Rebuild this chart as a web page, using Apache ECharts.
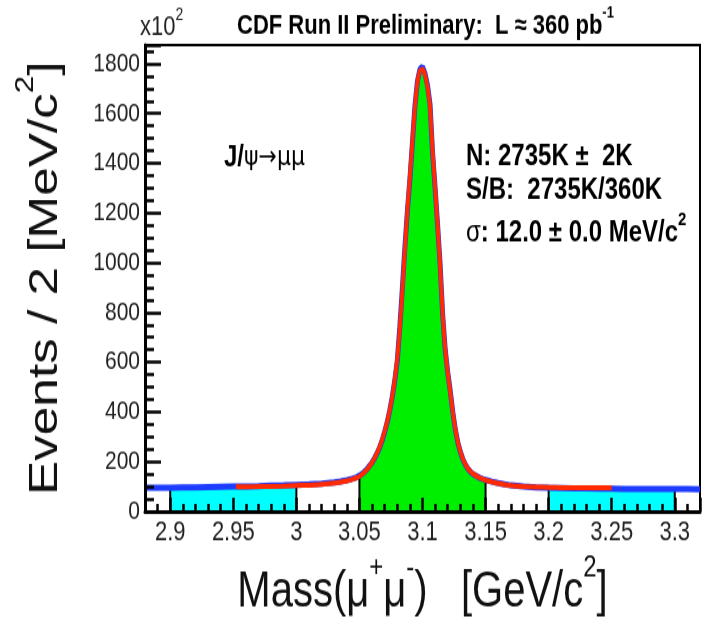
<!DOCTYPE html>
<html><head><meta charset="utf-8">
<script src="https://cdn.jsdelivr.net/npm/echarts@6.0.0/dist/echarts.min.js"></script>
<style>
html,body{margin:0;padding:0;background:#fff;overflow:hidden;width:704px;height:624px}
#chart{width:704px;height:499px;transform:scaleY(1.2505);transform-origin:0 0}
</style>
</head><body><div id="chart"></div>
<script>
// Dimuon invariant mass (GeV/c^2), bin centres
const massBins = [2.880, 2.890, 2.900, 2.910, 2.920, 2.930, 2.940, 2.950, 2.960, 2.970, 2.980, 2.990, 3.000, 3.010, 3.020, 3.030, 3.035, 3.040, 3.044, 3.048,
  3.050, 3.052, 3.054, 3.056, 3.058, 3.060, 3.062, 3.064, 3.066, 3.068, 3.070, 3.072, 3.074, 3.076, 3.078, 3.080, 3.082, 3.084, 3.086, 3.088,
  3.090, 3.092, 3.094, 3.096, 3.098, 3.100, 3.102, 3.104, 3.106, 3.108, 3.110, 3.112, 3.114, 3.116, 3.118, 3.120, 3.122, 3.124, 3.126, 3.128,
  3.130, 3.132, 3.134, 3.136, 3.138, 3.140, 3.142, 3.144, 3.146, 3.148, 3.150,
  3.155, 3.160, 3.165, 3.170, 3.180, 3.190, 3.200, 3.210, 3.220, 3.230, 3.240, 3.250, 3.260, 3.270, 3.280, 3.290, 3.300, 3.310, 3.320];
// Events / 2 MeV (x10^2)
const counts = [96, 95, 96, 97, 97, 98, 99, 100, 101, 102, 104, 105, 107, 109, 112, 117, 121, 126, 131, 138,
  144, 151, 160, 170, 183, 197, 214, 234, 257, 285, 320, 358, 405, 460, 525, 605, 740, 895, 1060, 1205,
  1335, 1480, 1630, 1730, 1778, 1788, 1760, 1712, 1635, 1440, 1300, 1150, 990, 790, 650, 560, 485, 400, 330, 278,
  240, 210, 188, 172, 160, 151, 145, 139, 134, 130, 127,
  120, 114, 109, 105, 100, 97, 95, 94, 93, 93, 92, 92, 91, 91, 91, 90, 90, 90, 89];
// Fit curve
const fitMass = [2.952, 2.970, 2.990, 3.000, 3.010, 3.020, 3.030, 3.035, 3.040, 3.044, 3.048,
  3.050, 3.052, 3.054, 3.056, 3.058, 3.060, 3.062, 3.064, 3.066, 3.068, 3.070, 3.072, 3.074, 3.076, 3.078, 3.080, 3.082, 3.084, 3.086, 3.088,
  3.090, 3.092, 3.094, 3.096, 3.098, 3.100, 3.102, 3.104, 3.106, 3.108, 3.110, 3.112, 3.114, 3.116, 3.118, 3.120, 3.122, 3.124, 3.126, 3.128,
  3.130, 3.132, 3.134, 3.136, 3.138, 3.140, 3.142, 3.144, 3.146, 3.148, 3.150,
  3.155, 3.160, 3.165, 3.170, 3.180, 3.190, 3.200, 3.210, 3.220, 3.230, 3.240, 3.250];
const fitCounts = [99, 100, 102, 104, 106, 109, 114, 118, 123, 129, 136,
  141, 149, 158, 169, 182, 197, 215, 236, 260, 289, 322, 361, 407, 462, 530, 615, 735, 885, 1050, 1210,
  1345, 1490, 1625, 1725, 1772, 1778, 1755, 1705, 1625, 1450, 1305, 1150, 985, 795, 655, 560, 482, 402, 333, 280,
  242, 212, 190, 173, 161, 152, 145, 139, 134, 130, 126,
  119, 113, 108, 104, 100, 98, 97, 96, 96, 95, 95, 95];
const signalWindow = [3.05, 3.15];
const sidebandWindows = [[2.9, 3.0], [3.2, 3.3]];
const xRange = [2.88, 3.32];
const yRange = [0, 1875];

const FONT = "'Liberation Sans', Arial, Helvetica, sans-serif";

function regionData(lo, hi) {
  const pts = [[lo, 0]];
  massBins.forEach((m, i) => { if (m >= lo - 1e-9 && m <= hi + 1e-9) pts.push([m, counts[i]]); });
  pts.push([hi, 0]);
  return pts;
}

const fillSeries = (data, color) => ({
  type: 'line', data, symbol: 'none', z: 1, silent: true,
  lineStyle: { color: '#000', width: 2 },
  areaStyle: { color, opacity: 1 }
});

const chart = echarts.init(document.getElementById('chart'));
chart.setOption({
  animation: false,
  backgroundColor: '#fff',
  grid: { left: 145, right: 4, top: 36, bottom: 78, show: true, borderColor: '#000', borderWidth: 2 },
  xAxis: {
    type: 'value', min: xRange[0], max: xRange[1], splitNumber: 9, minInterval: 0.05, maxInterval: 0.05, z: 10,
    axisLine: { show: true, lineStyle: { color: '#000', width: 3 } },
    axisTick: { show: true, inside: true, length: 11, lineStyle: { color: '#000', width: 2.5 } },
    minorTick: { show: true, splitNumber: 5, length: 6, lineStyle: { color: '#000', width: 2.5 } },
    splitLine: { show: false },
    axisLabel: { showMinLabel: false, showMaxLabel: false, fontFamily: FONT, fontSize: 22, color: '#222', margin: 6,
      formatter: v => String(+v.toFixed(3)) },
    name: '{n|Mass(μ}{s|+}{n|μ}{s|-}{n|)   [GeV/c}{s|2}{n|]}',
    nameLocation: 'middle', nameGap: 33,
    nameTextStyle: {
      rich: {
        n: { fontFamily: FONT, fontSize: 40, color: '#111', lineHeight: 52, verticalAlign: 'bottom' },
        s: { fontFamily: FONT, fontSize: 24, color: '#111', verticalAlign: 'top' }
      }
    }
  },
  yAxis: {
    type: 'value', min: yRange[0], max: yRange[1], interval: 200, z: 10,
    axisLine: { show: true, lineStyle: { color: '#000', width: 3 } },
    axisTick: { show: true, inside: true, length: 16, lineStyle: { color: '#000', width: 2.5 } },
    minorTick: { show: true, splitNumber: 4, length: 9, lineStyle: { color: '#000', width: 2.5 } },
    splitLine: { show: false },
    axisLabel: { showMaxLabel: false, fontFamily: FONT, fontSize: 21, color: '#222', margin: 5,
      formatter: v => String(v) },
    name: '{n|Events / 2 [MeV/c}{s|2}{n|]}',
    nameLocation: 'middle', nameRotate: 90, nameGap: 79,
    nameTextStyle: {
      rich: {
        n: { fontFamily: FONT, fontSize: 41, color: '#111', lineHeight: 52, verticalAlign: 'bottom' },
        s: { fontFamily: FONT, fontSize: 25, color: '#111', verticalAlign: 'top' }
      }
    }
  },
  series: [
    fillSeries(regionData(sidebandWindows[0][0], sidebandWindows[0][1]), '#00ffff'),
    fillSeries(regionData(sidebandWindows[1][0], sidebandWindows[1][1]), '#00ffff'),
    fillSeries(regionData(signalWindow[0], signalWindow[1]), '#00ee00'),
    {
      type: 'line', name: 'data', symbol: 'none', z: 3, silent: true,
      data: massBins.map((m, i) => [m, counts[i]]),
      lineStyle: { color: '#1e3cff', width: 5 }
    },
    {
      type: 'line', name: 'fit', symbol: 'none', z: 4, silent: true, smooth: 0.2,
      data: fitMass.map((m, i) => [m, fitCounts[i]]),
      lineStyle: { color: '#ff2a00', width: 4 }
    }
  ],
  graphic: [
    { type: 'text', x: 140, y: 19, style: { text: '{n|x10}{s|2}', verticalAlign: 'middle', align: 'left',
      rich: { n: { fontFamily: FONT, fontSize: 22, fill: '#222', lineHeight: 28, verticalAlign: 'bottom' },
              s: { fontFamily: FONT, fontSize: 14, fill: '#222', verticalAlign: 'top' } } } },
    { type: 'text', x: 237, y: 18, style: { text: '{n|CDF Run II Preliminary:  L ≈ 360 pb}{s|-1}', verticalAlign: 'middle', align: 'left',
      rich: { n: { fontFamily: FONT, fontSize: 22, fontWeight: 'bold', fill: '#000', lineHeight: 28, verticalAlign: 'bottom' },
              s: { fontFamily: FONT, fontSize: 13, fontWeight: 'bold', fill: '#000', verticalAlign: 'top' } } } },
    { type: 'text', x: 224, y: 126, style: { text: '{b|J/}{n|ψ→μμ}', verticalAlign: 'middle', align: 'left',
      rich: { b: { fontFamily: FONT, fontSize: 24, fontWeight: 'bold', fill: '#000' },
              n: { fontFamily: "'DejaVu Sans', " + FONT, fontSize: 22, fill: '#000' } } } },
    { type: 'text', x: 466, y: 125.6, style: { text: 'N: 2735K ±  2K', verticalAlign: 'middle', align: 'left',
      fontFamily: FONT, fontSize: 24, fontWeight: 'bold', fill: '#000' } },
    { type: 'text', x: 466, y: 152.7, style: { text: 'S/B:  2735K/360K', verticalAlign: 'middle', align: 'left',
      fontFamily: FONT, fontSize: 24, fontWeight: 'bold', fill: '#000' } },
    { type: 'text', x: 466, y: 183, style: { text: '{g|σ}{b|: 12.0 ± 0.0 MeV/c}{s|2}', verticalAlign: 'middle', align: 'left',
      rich: { g: { fontFamily: FONT, fontSize: 24, fill: '#000', lineHeight: 30, verticalAlign: 'bottom' },
              b: { fontFamily: FONT, fontSize: 24, fontWeight: 'bold', fill: '#000', lineHeight: 30, verticalAlign: 'bottom' },
              s: { fontFamily: FONT, fontSize: 15, fontWeight: 'bold', fill: '#000', verticalAlign: 'top' } } } }
  ]
});
</script></body></html>
